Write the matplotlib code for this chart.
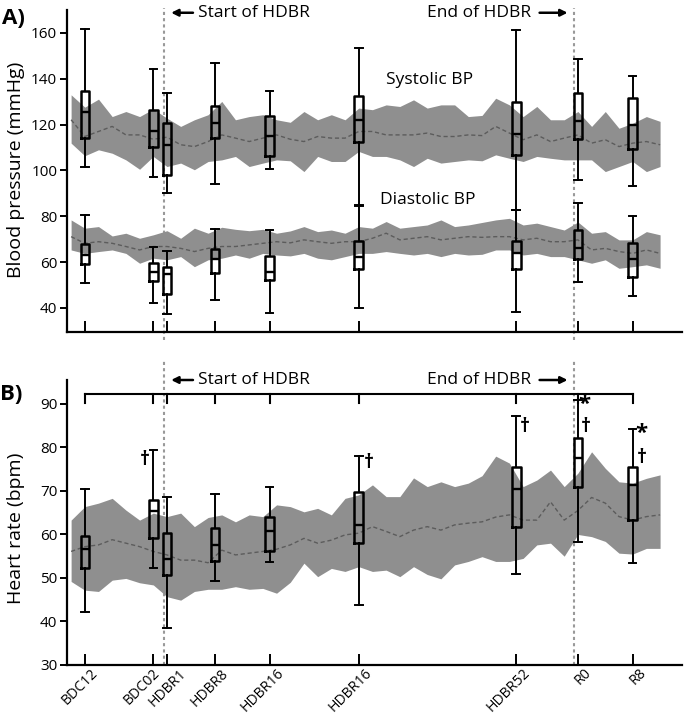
import matplotlib
matplotlib.use("Agg")
import matplotlib.pyplot as plt
import matplotlib.transforms as mtransforms

plt.rcParams["font.family"] = ["Open Sans", "DejaVu Sans"]

# sampling days of the daily-average bands (HDBR day 1 = 1)
days = [-13, -11, -9, -7, -5, -3, -1, 1, 3, 5, 7, 9, 11, 13, 15, 17, 19,
        21, 23, 25, 27, 29, 31, 33, 35, 37, 39, 41, 43, 45, 47,
        49, 51, 53, 55, 57, 59, 61, 63, 65, 67, 69, 71, 73]

sys_hi = [133.0, 127.6, 131.1, 123.5, 125.7, 123.5, 126.8, 122.8, 119.2, 122.1, 124.3, 130.1, 122.1, 123.5, 124.3, 122.1, 121.0,
          125.7, 122.1, 124.3, 122.1, 127.2, 126.5, 128.6, 127.9, 130.8, 127.2, 128.6, 128.6, 123.5, 124.0,
          131.5, 128.6, 123.5, 127.9, 122.1, 122.1, 125.7, 119.2, 125.7, 118.4, 120.6, 123.5, 121.4]
sys_lo = [111.9, 106.4, 109.0, 107.5, 104.6, 100.5, 106.1, 101.7, 103.2, 100.3, 103.9, 104.6, 106.1, 101.7, 103.2, 104.6, 104.2,
          99.5, 106.1, 103.9, 103.9, 108.3, 106.1, 106.1, 104.6, 101.7, 105.3, 103.2, 103.9, 104.6, 104.2,
          106.8, 105.3, 103.9, 106.1, 105.3, 104.6, 104.6, 104.6, 99.5, 101.7, 103.9, 99.5, 101.7]
sys_avg = [122.1, 114.8, 117.0, 119.2, 115.5, 115.5, 113.6, 114.5, 111.2, 110.4, 112.6, 115.5, 114.1, 112.6, 114.1, 115.5, 113.6,
           112.6, 114.8, 114.1, 114.1, 117.0, 117.0, 115.5, 115.5, 115.5, 116.3, 114.8, 114.8, 115.5, 115.2,
           119.2, 116.3, 113.4, 115.5, 112.6, 114.1, 115.5, 111.9, 113.4, 110.4, 111.9, 112.6, 111.2]

dia_hi = [78.4, 74.8, 75.5, 71.4, 72.6, 70.4, 71.9, 73.7, 70.4, 74.8, 72.6, 75.2, 74.3, 73.7, 74.3, 72.6, 73.6,
          75.5, 73.3, 74.0, 72.6, 75.5, 74.8, 77.7, 74.8, 75.5, 76.2, 78.4, 75.5, 76.2, 77.3,
          78.4, 79.1, 76.2, 77.0, 75.5, 74.0, 77.5, 72.6, 73.3, 69.7, 69.7, 73.3, 71.9]
dia_lo = [65.3, 63.8, 64.6, 65.3, 63.8, 59.5, 61.7, 61.0, 62.4, 58.0, 61.0, 61.7, 63.1, 61.7, 63.8, 63.1, 62.7,
          63.8, 61.7, 61.0, 62.4, 63.8, 63.8, 64.6, 63.8, 63.1, 63.8, 62.4, 63.8, 63.1, 63.4,
          65.3, 65.3, 63.1, 63.8, 62.4, 62.4, 61.0, 59.5, 61.0, 57.3, 58.0, 58.8, 57.3]
dia_avg = [71.1, 68.2, 68.9, 68.2, 66.8, 65.3, 66.8, 66.8, 66.0, 64.6, 66.0, 66.8, 66.8, 67.5, 68.2, 68.9, 68.4,
           69.7, 68.9, 68.2, 68.9, 68.9, 70.4, 72.6, 69.7, 70.4, 71.1, 69.7, 70.4, 71.1, 70.8,
           71.1, 71.1, 69.7, 70.4, 68.9, 68.9, 69.7, 65.3, 66.0, 64.6, 63.8, 65.3, 63.8]

hr_hi = [63.3, 66.4, 67.2, 68.3, 65.6, 63.3, 64.9, 64.1, 64.9, 61.8, 63.9, 64.5, 62.9, 64.5, 64.1, 66.8, 66.4,
         65.2, 66.0, 64.5, 68.3, 69.1, 71.4, 68.7, 68.7, 73.0, 71.0, 72.1, 71.0, 71.8, 73.5,
         78.0, 76.4, 71.0, 72.5, 74.8, 71.0, 74.1, 79.0, 75.2, 72.1, 71.8, 72.9, 73.7]
hr_lo = [49.2, 47.2, 46.9, 49.5, 49.9, 48.9, 48.4, 45.7, 44.9, 46.9, 47.4, 47.4, 48.0, 47.4, 47.6, 46.5, 49.0,
         53.4, 50.3, 52.2, 51.5, 52.6, 51.5, 51.8, 50.3, 52.6, 50.8, 49.8, 53.0, 53.8, 54.9,
         53.8, 53.8, 54.5, 57.6, 58.0, 55.0, 60.0, 59.5, 58.4, 55.7, 55.5, 56.8, 56.8]
hr_avg = [56.1, 57.2, 57.6, 58.8, 58.0, 57.2, 56.1, 55.3, 54.1, 54.1, 53.5, 56.4, 55.3, 55.7, 56.1, 56.6, 57.6,
          59.1, 58.0, 58.7, 59.9, 60.3, 61.8, 60.7, 59.5, 61.0, 61.8, 61.0, 62.2, 62.6, 62.9,
          64.0, 64.5, 63.3, 63.3, 67.5, 63.3, 65.5, 68.5, 67.2, 64.1, 63.3, 64.1, 64.5]

# test days with box plots
box_days = [-11, -1, 1, 8, 16, 29, 52, 61, 69]
box_labels = ["BDC12", "BDC02", "HDBR1", "HDBR8", "HDBR16", "HDBR16", "HDBR52", "R0", "R8"]

sys_whishi = [161.7, 144.4, 134.0, 146.8, 134.8, 153.4, 161.4, 148.5, 141.0]
sys_q3 = [134.8, 126.5, 120.9, 128.2, 123.8, 132.3, 129.7, 134.0, 131.5]
sys_med = [125.7, 117.0, 111.2, 120.9, 115.2, 122.1, 116.0, 121.4, 119.9]
sys_q1 = [114.1, 110.2, 97.8, 114.1, 106.1, 112.4, 106.8, 113.8, 109.4]
sys_whislo = [101.7, 97.3, 90.1, 94.1, 100.7, 85.0, 82.8, 95.9, 93.0]

dia_whishi = [80.6, 66.8, 64.9, 74.6, 74.0, 84.5, 82.8, 86.0, 80.3]
dia_q3 = [67.9, 59.8, 57.8, 65.9, 62.7, 69.0, 69.0, 73.8, 68.2]
dia_med = [63.1, 55.6, 54.8, 61.3, 55.6, 62.1, 63.9, 66.1, 61.3]
dia_q1 = [59.2, 51.9, 46.0, 55.4, 52.2, 56.9, 56.9, 61.4, 53.7]
dia_whislo = [50.8, 42.3, 37.4, 43.5, 38.0, 39.9, 38.4, 51.5, 45.4]

hr_whishi = [70.4, 79.4, 68.5, 69.3, 71.0, 78.0, 87.3, 90.8, 84.2]
hr_q3 = [59.7, 67.9, 60.3, 61.6, 63.9, 69.8, 75.6, 82.1, 75.4]
hr_med = [56.7, 65.5, 54.4, 57.6, 60.7, 62.2, 70.4, 77.5, 71.4]
hr_q1 = [52.2, 59.3, 50.7, 53.8, 56.3, 58.0, 61.8, 70.8, 63.3]
hr_whislo = [42.1, 52.2, 38.4, 49.3, 53.6, 43.8, 50.9, 58.2, 53.4]

hdbr_start = 0.5
hdbr_end = 60.5

# significance marks (x day, y bpm, symbol)
hr_marks = [(-2.2, 77.0, "†"), (30.4, 76.5, "†"), (53.3, 84.6, "†"),
            (62.0, 89.8, "*"), (62.1, 84.6, "†"), (70.2, 83.2, "*"), (70.4, 77.6, "†")]
bracket_y = 92.3

W, H = 685, 718


def fx(px):
    return px / W


def fy(py):
    return 1 - py / H


fig = plt.figure(figsize=(W / 100, H / 100), dpi=100)
ax1 = fig.add_axes([fx(67), fy(332), fx(682) - fx(67), fy(10) - fy(332)])
ax2 = fig.add_axes([fx(67), fy(665), fx(682) - fx(67), fy(380) - fy(665)])

band_col = "#8f8f8f"
mean_col = "#5c5c5c"
box_kw = dict(
    positions=box_days, widths=1.25, capwidths=1.1, showfliers=False,
    manage_ticks=False, patch_artist=False,
    boxprops=dict(color="k", lw=1.8),
    whiskerprops=dict(color="k", lw=1.4),
    capprops=dict(color="k", lw=1.4),
    medianprops=dict(color="k", lw=1.7),
)


def stats(lo, q1, med, q3, hi):
    return [dict(whislo=a, q1=b, med=c, q3=d, whishi=e)
            for a, b, c, d, e in zip(lo, q1, med, q3, hi)]


# --- panel A: blood pressure
ax1.fill_between(days, sys_lo, sys_hi, color=band_col, lw=0, zorder=1)
ax1.plot(days, sys_avg, color=mean_col, lw=1.0, dashes=(3, 2), zorder=2)
ax1.fill_between(days, dia_lo, dia_hi, color=band_col, lw=0, zorder=1)
ax1.plot(days, dia_avg, color=mean_col, lw=1.0, dashes=(3, 2), zorder=2)
ax1.bxp(stats(sys_whislo, sys_q1, sys_med, sys_q3, sys_whishi), **box_kw)
ax1.bxp(stats(dia_whislo, dia_q1, dia_med, dia_q3, dia_whishi), **box_kw)
ax1.set_ylim(29.5, 170)
ax1.set_yticks([40, 60, 80, 100, 120, 140, 160])
for x in (hdbr_start, hdbr_end):
    ax1.plot([x, x], [26, 171], color="#999999", lw=1.5, ls=(0, (1.5, 1.5)),
             clip_on=False, zorder=0)
ax1.text(39.4, 139.6, "Systolic BP", ha="center", va="center", fontsize=12.5)
ax1.text(39.1, 87.2, "Diastolic BP", ha="center", va="center", fontsize=12.5)

# --- panel B: heart rate
ax2.fill_between(days, hr_lo, hr_hi, color=band_col, lw=0, zorder=1)
ax2.plot(days, hr_avg, color=mean_col, lw=1.0, dashes=(3, 2), zorder=2)
ax2.bxp(stats(hr_whislo, hr_q1, hr_med, hr_q3, hr_whishi), **box_kw)
ax2.set_ylim(30, 95.5)
ax2.set_yticks([30, 40, 50, 60, 70, 80, 90])
for x in (hdbr_start, hdbr_end):
    ax2.plot([x, x], [30, 100], color="#999999", lw=1.5, ls=(0, (1.5, 1.5)),
             clip_on=False, zorder=0)
ax2.plot([box_days[0], box_days[-1]], [bracket_y, bracket_y], color="k", lw=1.5, zorder=4)
for x in box_days:
    ax2.plot([x, x], [bracket_y, bracket_y - 2.0], color="k", lw=1.5, zorder=4)
for x, y, s in hr_marks:
    ax2.text(x, y, s, ha="center", va="center",
             fontsize=16 if s == "*" else 14, fontweight="bold")

for ax, ytop in ((ax1, 168.8), (ax2, 95.5)):
    ax.set_xlim(-13.6, 76.2)
    ax.set_xticks(box_days)
    ax.spines[["top", "right"]].set_visible(False)
    ax.spines[["left", "bottom"]].set_linewidth(1.6)
    ax.tick_params(axis="y", direction="out", length=5, width=1.4, labelsize=11, pad=2)
    ax.tick_params(axis="x", direction="in", length=8, width=1.4, pad=2)
    ax.annotate("", xy=(1.2, ytop), xytext=(5.2, ytop), annotation_clip=False,
                arrowprops=dict(arrowstyle="-|>", color="k", lw=1.8, mutation_scale=10))
    ax.text(5.5, ytop, "Start of HDBR", ha="left", va="center", fontsize=12.5, clip_on=False)
    ax.annotate("", xy=(59.9, ytop), xytext=(55.0, ytop), annotation_clip=False,
                arrowprops=dict(arrowstyle="-|>", color="k", lw=1.8, mutation_scale=10))
    ax.text(54.2, ytop, "End of HDBR", ha="right", va="center", fontsize=12.5, clip_on=False)

ax1.set_xticklabels([])
ax2.set_xticklabels(box_labels, rotation=45, ha="right", va="top",
                    rotation_mode="anchor", fontsize=10.2)
# horizontal nudge of each rotated label (pixels), as placed in the figure
label_nudge = [6, -1, 12, 6, 7, 6, 6, 6, 6]
for lab, dx in zip(ax2.get_xticklabels(), label_nudge):
    shift = mtransforms.ScaledTranslation(dx / 100, 2 / 100, fig.dpi_scale_trans)
    lab.set_transform(lab.get_transform() + shift)

fig.text(fx(16), fy(170), "Blood pressure (mmHg)", rotation=90,
         ha="center", va="center", fontsize=14)
fig.text(fx(16), fy(528), "Heart rate (bpm)", rotation=90,
         ha="center", va="center", fontsize=14)
fig.text(fx(25), fy(18), "A)", ha="right", va="center", fontsize=16, fontweight="bold")
fig.text(fx(0), fy(394), "B)", ha="left", va="center", fontsize=16, fontweight="bold")

fig.savefig("out.png", dpi=100)
